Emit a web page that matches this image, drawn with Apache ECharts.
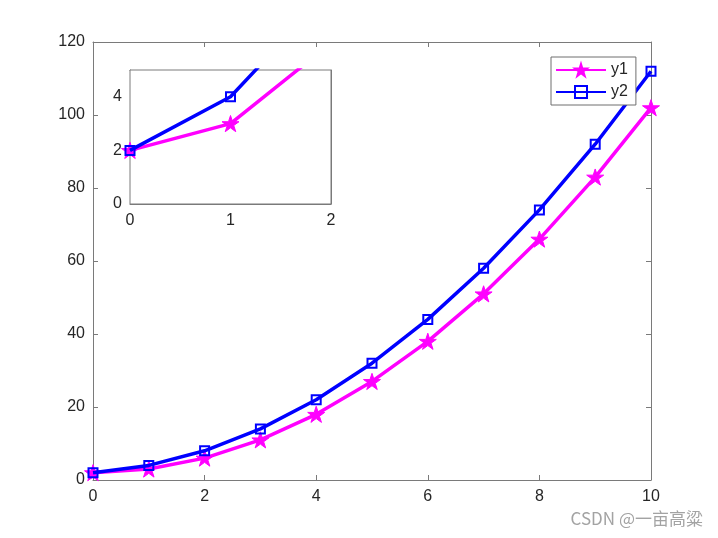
<!DOCTYPE html>
<html>
<head>
<meta charset="utf-8">
<script src="https://cdn.jsdelivr.net/npm/echarts@6/dist/echarts.min.js"></script>
<style>
  html, body { margin: 0; padding: 0; background: #fff; }
  #chart { width: 718px; height: 538px; }
</style>
</head>
<body>
<div id="chart"></div>
<script>
// data
const xValues = [0, 1, 2, 3, 4, 5, 6, 7, 8, 9, 10];
const y1Values = [2, 3, 6, 11, 18, 27, 38, 51, 66, 83, 102];
const y2Values = [2, 4, 8, 14, 22, 32, 44, 58, 74, 92, 112];
const mainYTicks = [0, 20, 40, 60, 80, 100, 120];
const insetYTicks = [0, 2, 4];

const starPath = 'path://M100,0 L122.45,69.1 L195.1,69.1 L136.33,111.8 L158.78,180.9 L100,138.2 L41.22,180.9 L63.67,111.8 L4.9,69.1 L77.55,69.1 Z';
const axisGray = '#7a7a7a';
const labelColor = '#262626';
const font = 'Liberation Sans, Arial, sans-serif';

const pairs = (ys) => xValues.map((x, i) => [x, ys[i]]);

const chart = echarts.init(document.getElementById('chart'));

function makeX(gridIndex, min, max, interval, pos, showLabel) {
    return {
        type: 'value', gridIndex: gridIndex, min: min, max: max, interval: interval,
        position: pos,
        axisLine: { show: true, onZero: false, lineStyle: { color: axisGray, width: 1 } },
        axisTick: { show: true, inside: true, length: 5, lineStyle: { color: axisGray } },
        axisLabel: { show: showLabel, color: labelColor, fontSize: 16, fontFamily: font, margin: 9 },
        splitLine: { show: false }
    };
}
function makeY(gridIndex, min, max, interval, pos, showLabel) {
    return {
        type: 'value', gridIndex: gridIndex, min: min, max: max, interval: interval,
        position: pos,
        axisLine: { show: true, onZero: false, lineStyle: { color: axisGray, width: 1 } },
        axisTick: { show: true, inside: true, length: 5, lineStyle: { color: axisGray } },
        axisLabel: { show: showLabel, color: labelColor, fontSize: 16, fontFamily: font, margin: 8, showMaxLabel: max % interval === 0 },
        splitLine: { show: false }
    };
}

function lineSeries(name, ys, axisIdx, isStar) {
    return {
        name: name,
        type: 'line',
        xAxisIndex: axisIdx,
        yAxisIndex: axisIdx,
        data: pairs(ys),
        clip: true,
        animation: false,
        symbol: isStar ? starPath : 'rect',
        symbolSize: isStar ? 17 : 9,
        symbolKeepAspect: true,
        showAllSymbol: true,
        lineStyle: { width: 3.5, color: isStar ? '#ff00ff' : '#0000ff' },
        itemStyle: isStar
            ? { color: '#ff00ff', borderColor: '#ff00ff', borderWidth: 1 }
            : { color: 'rgba(255,255,255,0)', borderColor: '#0000ff', borderWidth: 2 },
        z: isStar ? 3 : 4
    };
}

const option = {
    backgroundColor: '#fff',
    animation: false,
    grid: [
        { left: 93, right: 67, top: 42, bottom: 58 },
        { left: 130, top: 70, width: 201, height: 134, show: true, backgroundColor: '#fff', borderColor: axisGray, z: 10 }
    ],
    legend: {
        data: ['y1', 'y2'],
        orient: 'vertical',
        left: 551,
        top: 57,
        itemWidth: 50,
        itemHeight: 15,
        itemGap: 6,
        padding: [5, 8, 5, 4],
        backgroundColor: '#fff',
        borderColor: '#6e6e6e',
        borderWidth: 1,
        textStyle: { color: labelColor, fontSize: 16, fontFamily: font },
        z: 20
    },
    xAxis: [
        makeX(0, 0, 10, 2, 'bottom', true),
        makeX(1, 0, 2, 1, 'bottom', true),
        makeX(0, 0, 10, 2, 'top', false),
        makeX(1, 0, 2, 1, 'top', false)
    ],
    yAxis: [
        makeY(0, mainYTicks[0], mainYTicks[mainYTicks.length - 1], 20, 'left', true),
        makeY(1, insetYTicks[0], 5, 2, 'left', true),
        makeY(0, mainYTicks[0], mainYTicks[mainYTicks.length - 1], 20, 'right', false),
        makeY(1, insetYTicks[0], 5, 2, 'right', false)
    ],
    series: [
        lineSeries('y1', y1Values, 0, true),
        lineSeries('y2', y2Values, 0, false),
        Object.assign(lineSeries('y1', y1Values, 1, true), { z: 11 }),
        Object.assign(lineSeries('y2', y2Values, 1, false), { z: 12 })
    ],
    graphic: [
        {
            type: 'text',
            right: 15,
            top: 510,
            style: { text: 'CSDN @一亩高粱', fill: '#a3a3a3', fontSize: 17, fontFamily: 'Noto Sans CJK SC, sans-serif' }
        }
    ]
};

chart.setOption(option);
</script>
</body>
</html>
